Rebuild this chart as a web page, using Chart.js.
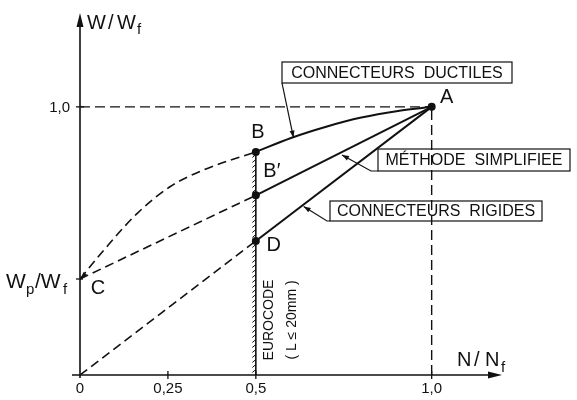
<!DOCTYPE html>
<html>
<head>
<meta charset="utf-8">
<script src="https://cdn.jsdelivr.net/npm/chart.js@4/dist/chart.umd.min.js"></script>
<style>
  html, body { margin: 0; padding: 0; background: #fff; }
  #wrap { width: 577px; height: 400px; }
</style>
</head>
<body>
<div id="wrap"><canvas id="c" width="577" height="400"></canvas></div>
<script>
// Axis ticks
const xTickValues = [0, 0.25, 0.5, 1.0];
const xTickLabels = ['0', '0,25', '0,5', '1,0'];
const yTickValues = [1.0];
const yTickLabels = ['1,0'];

// W_p / W_f ordinate (point C)
const wpRatio = 0.358;

// Ductile connectors: B -> A (curved)
const ductileN = [0.5, 0.6, 0.7, 0.8, 0.9, 1.0];
const ductileW = [0.832, 0.884, 0.926, 0.960, 0.984, 1.0];

// Simplified method: B' -> A
const simplifiedN = [0.5, 1.0];
const simplifiedW = [0.67, 1.0];

// Rigid connectors: D -> A
const rigidN = [0.5, 1.0];
const rigidW = [0.5, 1.0];

// Dashed branches below N/Nf = 0.5
const preDuctileN = [0, 0.068, 0.163, 0.257, 0.352, 0.5];
const preDuctileW = [0.358, 0.466, 0.603, 0.703, 0.765, 0.832];
const preSimplifiedN = [0, 0.5];
const preSimplifiedW = [0.358, 0.67];
const preRigidN = [0, 0.5];
const preRigidW = [0, 0.5];

// Eurocode limit (L < 20 mm)
const eurocodeN = [0.5, 0.5];
const eurocodeW = [0, 0.832];

// Reference lines through A
const refHorizN = [0, 1.0];
const refHorizW = [1.0, 1.0];
const refVertN = [1.0, 1.0];
const refVertW = [0, 1.0];

// Marked points
const pointLabels = ['A', 'B', 'B\u2032', 'D'];
const pointN = [1.0, 0.5, 0.5, 0.5];
const pointW = [1.0, 0.832, 0.67, 0.5];

const pts = (xs, ys) => xs.map((x, i) => ({ x: x, y: ys[i] }));

const INK = '#111';
const FONT = '"Liberation Sans", Arial, sans-serif';

function solid(data, extra) {
  return Object.assign({ data: data, showLine: true, borderColor: INK, borderWidth: 2, pointRadius: 0, fill: false }, extra || {});
}
function dashed(data, extra) {
  return Object.assign({ data: data, showLine: true, borderColor: INK, borderWidth: 1.6, borderDash: [9, 5], pointRadius: 0, fill: false }, extra || {});
}

function arrowHead(ctx, fromX, fromY, tipX, tipY, len, half) {
  const a = Math.atan2(tipY - fromY, tipX - fromX);
  ctx.beginPath();
  ctx.moveTo(tipX, tipY);
  ctx.lineTo(tipX - len * Math.cos(a) + half * Math.sin(a), tipY - len * Math.sin(a) - half * Math.cos(a));
  ctx.lineTo(tipX - len * Math.cos(a) - half * Math.sin(a), tipY - len * Math.sin(a) + half * Math.cos(a));
  ctx.closePath();
  ctx.fill();
}

// Axes, ticks, labels, boxed captions and hatching
const diagramPlugin = {
  id: 'diagram',
  afterDatasetsDraw(chart) {
    const ctx = chart.ctx;
    const xs = chart.scales.x, ys = chart.scales.y;
    const X = v => xs.getPixelForValue(v);
    const Y = v => ys.getPixelForValue(v);
    const x0 = X(0), y0 = Y(0);
    const xEnd = chart.chartArea.right, yEnd = chart.chartArea.top;

    ctx.save();
    ctx.strokeStyle = INK;
    ctx.fillStyle = INK;
    ctx.lineWidth = 1.6;
    ctx.setLineDash([]);

    // axes
    ctx.beginPath();
    ctx.moveTo(x0 - 8, y0); ctx.lineTo(xEnd - 6, y0);
    ctx.moveTo(x0, y0 + 3); ctx.lineTo(x0, yEnd + 6);
    ctx.stroke();
    arrowHead(ctx, x0, y0, xEnd, y0, 14, 3.5);
    arrowHead(ctx, x0, y0, x0, yEnd, 14, 3.5);

    // x ticks
    ctx.lineWidth = 1.3;
    ctx.font = '15px ' + FONT;
    ctx.textAlign = 'center';
    ctx.textBaseline = 'alphabetic';
    xTickValues.forEach((v, i) => {
      const px = X(v);
      if (v > 0) {
        ctx.beginPath(); ctx.moveTo(px, y0 - 4); ctx.lineTo(px, y0 + 4); ctx.stroke();
      }
      ctx.fillText(xTickLabels[i], px, y0 + 18);
    });

    // y ticks
    ctx.textAlign = 'right';
    yTickValues.forEach((v, i) => {
      const py = Y(v);
      ctx.beginPath(); ctx.moveTo(x0 - 4, py); ctx.lineTo(x0 + 4, py); ctx.stroke();
      ctx.fillText(yTickLabels[i], x0 - 10, py + 5);
    });
    const pyC = Y(wpRatio);
    ctx.beginPath(); ctx.moveTo(x0 - 4, pyC); ctx.lineTo(x0 + 3, pyC); ctx.stroke();

    // W_p / W_f label
    ctx.textAlign = 'left';
    ctx.font = '21px ' + FONT;
    ctx.fillText('W', 6, pyC + 9);
    ctx.font = '15px ' + FONT;
    ctx.fillText('p', 26, pyC + 15);
    ctx.font = '21px ' + FONT;
    ctx.fillText('/W', 35, pyC + 9);
    ctx.font = '15px ' + FONT;
    ctx.fillText('f', 63, pyC + 15);

    // axis titles
    function pieces(list, base) {
      list.forEach(p => {
        ctx.font = p[2] + 'px ' + FONT;
        ctx.fillText(p[0], p[1], base + (p[3] || 0));
      });
    }
    pieces([['W', 87, 20], ['/', 108, 20], ['W', 117, 20], ['f', 137, 15, 5]], 29);
    pieces([['N', 457, 20], ['/', 474, 20], ['N', 485, 20], ['f', 501, 15, 6]], 366);

    // point letters
    ctx.font = '20px ' + FONT;
    ctx.textAlign = 'center';
    ctx.textBaseline = 'middle';
    const offs = { 'A': [15, -9], 'B': [2, -19], 'B\u2032': [16, -24], 'D': [18, 5] };
    pointLabels.forEach((t, i) => {
      const o = offs[t];
      ctx.fillText(t, X(pointN[i]) + o[0], Y(pointW[i]) + o[1]);
    });
    ctx.fillText('C', x0 + 18, pyC + 9);

    // small arrow converging on C
    ctx.lineWidth = 1.2;
    arrowHead(ctx, X(preDuctileN[1]), Y(preDuctileW[1]), x0 + 1, pyC, 7, 2.5);

    // hatching along the Eurocode limit
    const ex = X(eurocodeN[0]);
    const eTop = Y(eurocodeW[1]);
    ctx.lineWidth = 1;
    for (let py = y0 - 4; py > eTop + 2; py -= 5) {
      ctx.beginPath();
      ctx.moveTo(ex - 3.5, py + 1.5);
      ctx.lineTo(ex, py - 1.5);
      ctx.stroke();
    }

    // Eurocode captions (rotated)
    ctx.font = '14px ' + FONT;
    ctx.save();
    ctx.translate(ex + 13, 320);
    ctx.rotate(-Math.PI / 2);
    ctx.fillText('EUROCODE', 0, 0);
    ctx.restore();
    ctx.save();
    ctx.translate(ex + 36, 320);
    ctx.rotate(-Math.PI / 2);
    ctx.fillText('( L \u2264 20mm )', 0, 0);
    ctx.restore();

    // boxed captions with leaders
    ctx.font = '16px ' + FONT;
    ctx.lineWidth = 1.2;
    function box(text, l, t, r, b) {
      ctx.strokeRect(l, t, r - l, b - t);
      ctx.fillText(text, (l + r) / 2, (t + b) / 2 + 1);
    }
    function leader(path, tip) {
      ctx.beginPath();
      ctx.moveTo(path[0][0], path[0][1]);
      for (let k = 1; k < path.length; k++) ctx.lineTo(path[k][0], path[k][1]);
      ctx.lineTo(tip[0], tip[1]);
      ctx.stroke();
      const last = path[path.length - 1];
      arrowHead(ctx, last[0], last[1], tip[0], tip[1], 7, 2.5);
    }

    box('CONNECTEURS  DUCTILES', 282, 62, 512, 83);
    leader([[282, 83]], [X(0.607), Y(0.893) + 2]);

    box('M\u00C9THODE  SIMPLIFIEE', 378, 149, 570, 171);
    leader([[378, 171], [371, 171]], [X(0.745), Y(0.832) + 3]);

    box('CONNECTEURS  RIGIDES', 330, 201, 542, 221);
    leader([[330, 221], [327, 221]], [X(0.636), Y(0.636) + 2]);

    ctx.restore();
  }
};

new Chart(document.getElementById('c'), {
  type: 'scatter',
  data: {
    datasets: [
      dashed(pts(refHorizN, refHorizW), { borderWidth: 1.4, borderDash: [10, 5] }),
      dashed(pts(refVertN, refVertW), { borderWidth: 1.4, borderDash: [10, 5] }),
      dashed(pts(preDuctileN, preDuctileW), { cubicInterpolationMode: 'monotone' }),
      dashed(pts(preSimplifiedN, preSimplifiedW)),
      dashed(pts(preRigidN, preRigidW)),
      solid(pts(eurocodeN, eurocodeW), { borderWidth: 1.6 }),
      solid(pts(ductileN, ductileW), { cubicInterpolationMode: 'monotone' }),
      solid(pts(simplifiedN, simplifiedW)),
      solid(pts(rigidN, rigidW)),
      {
        data: pts(pointN, pointW),
        showLine: false,
        pointRadius: 4,
        pointBackgroundColor: INK,
        pointBorderColor: INK,
        pointBorderWidth: 0
      }
    ]
  },
  options: {
    responsive: false,
    animation: false,
    layout: { padding: { left: 80, right: 75, top: 13, bottom: 25 } },
    scales: {
      x: { type: 'linear', min: 0, max: 1.2, display: false },
      y: { type: 'linear', min: 0, max: 1.35, display: false }
    },
    plugins: {
      legend: { display: false },
      tooltip: { enabled: false }
    },
    elements: { line: { tension: 0 } }
  },
  plugins: [diagramPlugin]
});
</script>
</body>
</html>
